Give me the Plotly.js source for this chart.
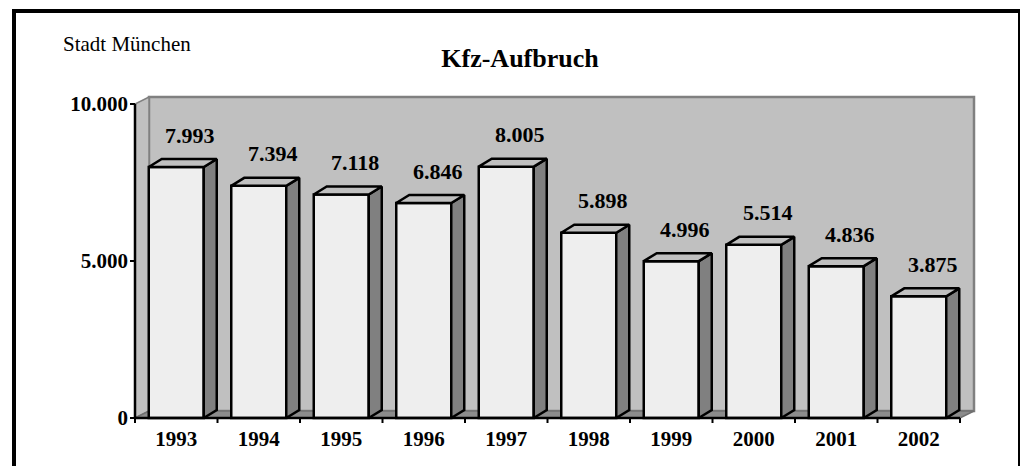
<!DOCTYPE html>
<html>
<head>
<meta charset="utf-8">
<script src="https://cdn.plot.ly/plotly-3.0.1.min.js"></script>
<style>
  html, body { margin: 0; padding: 0; background: #fff; }
  #wrap { position: relative; width: 1023px; height: 466px; overflow: hidden; }
  #chart { position: absolute; left: 0; top: 0; width: 1023px; height: 466px; }
  #frame { position: absolute; left: 12px; top: 9px; width: 1008px; height: 520px;
           box-sizing: border-box; border-left: 4px solid #000; border-top: 4px solid #000;
           border-right: 2px solid #000; pointer-events: none; }
</style>
</head>
<body>
<div id="wrap">
  <div id="chart"></div>
  <div id="frame"></div>
</div>
<script>
// ---- data ----
const years = ['1993', '1994', '1995', '1996', '1997', '1998', '1999', '2000', '2001', '2002'];
const values = [7993, 7394, 7118, 6846, 8005, 5898, 4996, 5514, 4836, 3875];
const yTickVals = [0, 5000, 10000];
const yTickText = ['0', '5.000', '10.000'];
const titleText = 'Kfz-Aufbruch';
const subTitleText = 'Stadt München';

// ---- geometry (pixels) ----
const W = 1023, H = 466;
const PX_CAT = 82.5;            // pixels per category
const PX_UNIT = 0.0314;         // pixels per value unit
const AX_LEFT = 135, AX_BOTTOM = 418;
const TICK = 5;
const PAD_L = 6, PAD_B = 6, PAD_R = 17, PAD_T = 9;
const n = years.length;
const cx = d => d / PX_CAT;     // px -> x units
const cy = d => d / PX_UNIT;    // px -> y units

const xMin = -0.5 - cx(PAD_L), xMax = n - 0.5 + cx(PAD_R);
const yMin = -cy(PAD_B), yMax = 10000 + cy(PAD_T);
const mL = AX_LEFT - PAD_L;
const mR = W - (AX_LEFT + n * PX_CAT + PAD_R);
const mB = H - (AX_BOTTOM + PAD_B);
const mT = AX_BOTTOM - 10000 * PX_UNIT - PAD_T;
const plotW = W - mL - mR, plotH = H - mT - mB;

const wdx = cx(14), wdy = cy(7);     // wall depth
const bdx = cx(13), bdy = cy(8);     // bar depth
const barW = 55 / PX_CAT;

const FONT = 'Liberation Serif, Times New Roman, serif';
const fmt = v => String(v).replace(/\B(?=(\d{3})+(?!\d))/g, '.');

const xs = years.map((_, i) => i);

// side and top faces of the bars
const sideX = [], sideY = [], topX = [], topY = [];
xs.forEach((i, k) => {
  const v = values[k];
  const l = i - barW / 2, r = i + barW / 2;
  sideX.push(r, r + bdx, r + bdx, r, r, null);
  sideY.push(0, bdy, v + bdy, v, 0, null);
  topX.push(l, l + bdx, r + bdx, r, l, null);
  topY.push(v, v + bdy, v + bdy, v, v, null);
});

const traces = [
  {
    type: 'bar', x: xs, y: values, width: barW,
    marker: { color: '#eeeeee', line: { color: '#000', width: 2.5 } },
    hoverinfo: 'skip', showlegend: false
  },
  {
    type: 'scatter', mode: 'lines', x: sideX, y: sideY, fill: 'toself',
    fillcolor: '#808080', line: { color: '#000', width: 2.5 },
    hoverinfo: 'skip', showlegend: false
  },
  {
    type: 'scatter', mode: 'lines', x: topX, y: topY, fill: 'toself',
    fillcolor: '#c0c0c0', line: { color: '#000', width: 2.5 },
    hoverinfo: 'skip', showlegend: false
  }
];

const shapes = [];
// back wall
shapes.push({ type: 'rect', layer: 'below', xref: 'x', yref: 'y',
  x0: -0.5 + wdx, x1: n - 0.5 + wdx, y0: wdy, y1: 10000 + wdy,
  fillcolor: '#c0c0c0', line: { color: '#808080', width: 2.5 } });
// side wall
shapes.push({ type: 'path', layer: 'below', xref: 'x', yref: 'y',
  path: `M ${-0.5},0 L ${-0.5},10000 L ${-0.5 + wdx},${10000 + wdy} L ${-0.5 + wdx},${wdy} Z`,
  fillcolor: '#c0c0c0', line: { color: '#808080', width: 1.5 } });
// floor
shapes.push({ type: 'path', layer: 'below', xref: 'x', yref: 'y',
  path: `M ${-0.5},0 L ${n - 0.5},0 L ${n - 0.5 + wdx},${wdy} L ${-0.5 + wdx},${wdy} Z`,
  fillcolor: '#8c8c8c', line: { color: '#707070', width: 1.5 } });
// axis lines
shapes.push({ type: 'line', layer: 'above', xref: 'x', yref: 'y',
  x0: -0.5, x1: -0.5, y0: 0, y1: 10000, line: { color: '#000', width: 2.5 } });
shapes.push({ type: 'line', layer: 'above', xref: 'x', yref: 'y',
  x0: -0.5, x1: n - 0.5, y0: 0, y1: 0, line: { color: '#000', width: 2.5 } });
// y ticks
yTickVals.forEach(v => shapes.push({ type: 'line', layer: 'above', xref: 'x', yref: 'y',
  x0: -0.5, x1: -0.5 - cx(TICK), y0: v, y1: v, line: { color: '#000', width: 2 } }));
// x ticks at category boundaries
for (let b = 0; b <= n; b++) {
  shapes.push({ type: 'line', layer: 'above', xref: 'x', yref: 'y',
    x0: b - 0.5, x1: b - 0.5, y0: 0, y1: -cy(TICK), line: { color: '#000', width: 2 } });
}

const annotations = xs.map((i, k) => ({
  x: i, y: values[k] + bdy, xref: 'x', yref: 'y',
  text: fmt(values[k]), showarrow: false,
  xanchor: 'center', yanchor: 'middle', xshift: 14, yshift: 24,
  font: { family: FONT, size: 22, color: '#000', weight: 700 }
}));
annotations.push({
  xref: 'paper', yref: 'paper',
  x: (61 - mL) / plotW, y: (H - mB - 44) / plotH,
  xanchor: 'left', yanchor: 'middle', showarrow: false,
  text: subTitleText,
  font: { family: FONT, size: 21, color: '#000' }
});

const layout = {
  width: W, height: H,
  margin: { l: mL, r: mR, t: mT, b: mB, pad: 0 },
  paper_bgcolor: '#fff', plot_bgcolor: 'rgba(0,0,0,0)',
  title: { text: titleText, xref: 'container', yref: 'container',
    x: 520 / W, y: 1 - 58 / H, xanchor: 'center', yanchor: 'middle',
    font: { family: FONT, size: 26, color: '#000', weight: 700 } },
  xaxis: { range: [xMin, xMax], tickmode: 'array', tickvals: xs, ticktext: years,
    showgrid: false, zeroline: false, showline: false, ticks: '',
    tickfont: { family: FONT, size: 21, color: '#000', weight: 700 }, fixedrange: true },
  yaxis: { range: [yMin, yMax], tickmode: 'array', tickvals: yTickVals, ticktext: yTickText,
    showgrid: false, zeroline: false, showline: false, ticks: '',
    tickfont: { family: FONT, size: 21, color: '#000', weight: 700 }, fixedrange: true },
  shapes: shapes,
  annotations: annotations,
  showlegend: false
};

Plotly.newPlot('chart', traces, layout, { staticPlot: true, displayModeBar: false });
</script>
</body>
</html>
